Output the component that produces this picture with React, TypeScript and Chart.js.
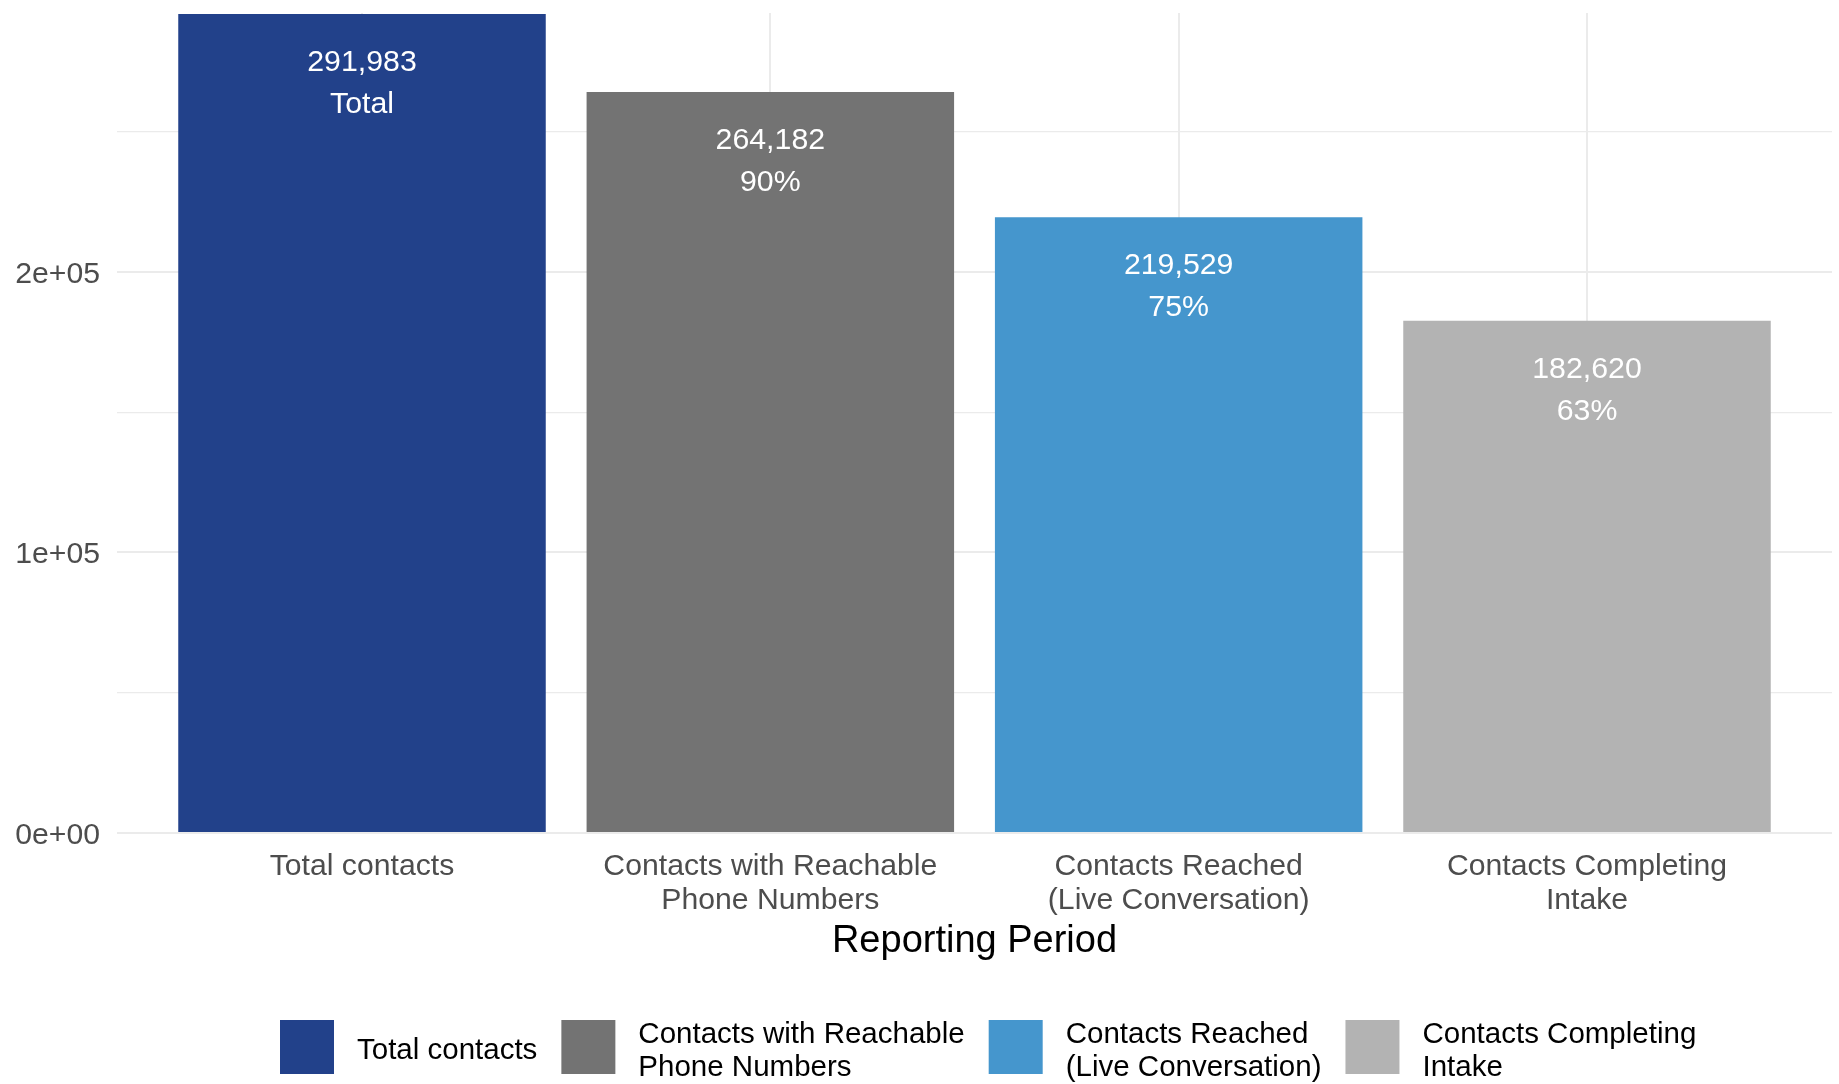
import React, { useEffect, useRef } from "react";
import { Chart, registerables } from "chart.js";

Chart.register(...registerables);

const FONT = '"Liberation Sans", Arial, sans-serif';

const categories = [
  "Total contacts",
  "Contacts with Reachable\nPhone Numbers",
  "Contacts Reached\n(Live Conversation)",
  "Contacts Completing\nIntake",
];
const contactCounts = [291983, 264182, 219529, 182620];
const barColors = ["#22418A", "#737373", "#4596CD", "#B3B3B3"];
const yTickValues = [0, 50000, 100000, 150000, 200000, 250000];
const yLabeledValues = [0, 100000, 200000];
const yLabelTexts = ["0e+00", "1e+05", "2e+05"];
const xAxisTitle = "Reporting Period";
const firstSubLabel = "Total";

const subLabels = contactCounts.map((v, i) =>
  i === 0 ? firstSubLabel : Math.round((v / contactCounts[0]) * 100) + "%"
);

const barLabelPlugin = {
  id: "barLabels",
  afterDatasetsDraw(chart: any) {
    const ctx = chart.ctx;
    const meta = chart.getDatasetMeta(0);
    ctx.save();
    ctx.font = `30.3px ${FONT}`;
    ctx.fillStyle = "#ffffff";
    ctx.textAlign = "center";
    ctx.textBaseline = "middle";
    meta.data.forEach((bar: any, i: number) => {
      ctx.fillText(contactCounts[i].toLocaleString("en-US"), bar.x, bar.y + 49);
      ctx.fillText(subLabels[i], bar.x, bar.y + 91);
    });
    ctx.restore();
  },
};

const legendPlugin = {
  id: "ggLegend",
  afterDraw(chart: any) {
    const ctx = chart.ctx;
    ctx.save();
    ctx.font = `29.5px ${FONT}`;
    ctx.textAlign = "left";
    ctx.textBaseline = "middle";
    let x = 280;
    const keyTop = 1020;
    const key = 54;
    const cy = 1051;
    const lh = 33;
    categories.forEach((c, i) => {
      ctx.fillStyle = barColors[i];
      ctx.fillRect(x, keyTop, key, key);
      x += key + 23;
      const lines = c.split("\n");
      ctx.fillStyle = "#000000";
      const w = Math.max(...lines.map((l) => ctx.measureText(l).width));
      lines.forEach((l, j) => {
        ctx.fillText(l, x, cy + (j - (lines.length - 1) / 2) * lh);
      });
      x += w + 24;
    });
    ctx.restore();
  },
};

export default function App() {
  const canvasRef = useRef<HTMLCanvasElement | null>(null);

  useEffect(() => {
    if (!canvasRef.current) return;
    const chart = new Chart(canvasRef.current, {
      type: "bar",
      data: {
        datasets: [
          {
            data: contactCounts.map((v, i) => ({ x: i, y: v })),
            backgroundColor: barColors,
            borderWidth: 0,
            categoryPercentage: 0.9,
            barPercentage: 1.0,
          },
        ],
      },
      options: {
        animation: false,
        responsive: false,
        devicePixelRatio: 1,
        layout: { padding: { left: 0, right: 7, top: 13, bottom: 0 } },
        plugins: {
          legend: { display: false },
          tooltip: { enabled: false },
        },
        scales: {
          x: {
            type: "linear",
            min: -0.6,
            max: 3.6,
            offset: false,
            afterBuildTicks: (s: any) => {
              s.ticks = categories.map((_, i) => ({ value: i }));
            },
            afterFit: (s: any) => {
              s.height = 251;
              s.paddingLeft = 0;
              s.paddingRight = 0;
              s.paddingTop = 0;
              s.paddingBottom = 0;
            },
            grid: { color: "#ebebeb", lineWidth: 2, drawTicks: false, offset: false },
            border: { display: false },
            ticks: {
              padding: 16.5,
              color: "#4d4d4d",
              autoSkip: false,
              maxRotation: 0,
              font: { family: FONT, size: 30.2, lineHeight: 34 / 30.2 },
              callback: (v: any) => {
                const c = categories[Math.round(Number(v))];
                return c ? c.split("\n") : "";
              },
            },
            title: {
              display: true,
              text: xAxisTitle,
              color: "#000000",
              font: { family: FONT, size: 38, lineHeight: 1.2 },
              padding: { top: 0, bottom: 119.5 },
            },
          },
          y: {
            type: "linear",
            min: 0,
            max: 292300,
            afterBuildTicks: (s: any) => {
              s.ticks = yTickValues.map((v) => ({ value: v }));
            },
            afterFit: (s: any) => {
              s.width = 117;
              s.paddingLeft = 0;
              s.paddingRight = 0;
              s.paddingTop = 0;
              s.paddingBottom = 0;
            },
            grid: {
              color: "#ebebeb",
              lineWidth: (ctx: any) =>
                ctx.tick && yLabeledValues.includes(ctx.tick.value) ? 2 : 1.2,
              drawTicks: false,
            },
            border: { display: false },
            ticks: {
              padding: 17,
              labelOffset: 2.5,
              color: "#4d4d4d",
              font: { family: FONT, size: 30.2 },
              callback: (v: any) => {
                const idx = yLabeledValues.indexOf(Number(v));
                return idx >= 0 ? yLabelTexts[idx] : "";
              },
            },
          },
        },
      },
      plugins: [barLabelPlugin, legendPlugin],
    } as any);
    return () => chart.destroy();
  }, []);

  return (
    <div
      style={{
        position: "fixed",
        left: 0,
        top: 0,
        width: 1839,
        height: 1084,
        background: "#ffffff",
      }}
    >
      <canvas
        ref={canvasRef}
        width={1839}
        height={1084}
        style={{ width: 1839, height: 1084, display: "block" }}
      />
    </div>
  );
}
